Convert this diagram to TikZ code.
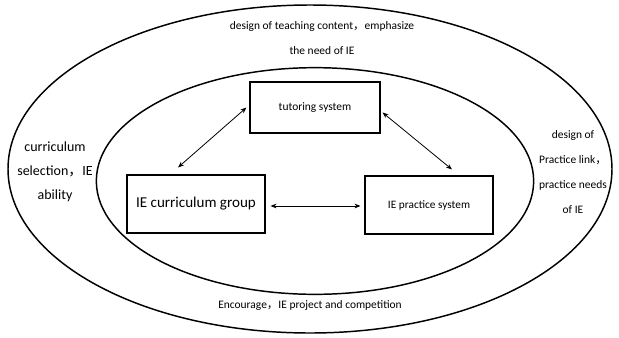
\documentclass[tikz,border=0pt]{standalone}
\usepackage{fontspec}
\setmainfont{Carlito}
\newfontfamily\cjk{Noto Sans CJK SC}
\newcommand{\zhcomma}{{\cjk ，}}
\usepackage{tikz}
\usetikzlibrary{arrows.meta}

\tikzset{
  ring/.style={line width=1.1pt},
  sysbox/.style={draw, line width=0.8pt, minimum width=#1, minimum height=43.5pt, inner sep=0pt},
  link/.style={line width=0.6pt, {Stealth[length=4.5pt,width=3.5pt]}-{Stealth[length=4.5pt,width=3.5pt]}},
  note/.style={align=center, font=\fontsize{8.6}{18.75}\selectfont}
}

\begin{document}
\begin{tikzpicture}[x=0.75pt, y=-0.75pt]
            \useasboundingbox (0,0) rectangle (619,337);

            % rings
            \draw[ring] (310,169) ellipse [x radius=226.5pt, y radius=123pt];
            \draw[ring] (315,181) ellipse [x radius=164pt, y radius=85pt];

            % systems
            \node[sysbox=97.5pt, minimum height=38.25pt, font=\fontsize{8.6}{10}\selectfont] (tut) at (315,107.5) {tutoring system};
            \node[sysbox=103.5pt, font=\fontsize{11.3}{13}\selectfont] (cur) at (196,204) {IE curriculum group};
            \node[sysbox=96pt, font=\fontsize{8.5}{10}\selectfont] (prac) at (429,205) {IE practice system};

            % outer texts
            \node[note] (top) at (322,38) {design of teaching content\zhcomma emphasize\\the need of IE};
            \node[note, font=\fontsize{10.5}{18}\selectfont] (left) at (55,172) {curriculum\\selection\zhcomma IE\\ability};
            \node[note] (right) at (573,172) {design of\\Practice link\zhcomma\\practice needs\\of IE};
            \node[note] (bottom) at (310,305) {Encourage\zhcomma IE project and competition};

            \draw[link] ([shift={(-3,0)}]tut.west) -- ([shift={(-18,-7)}]cur.north); % tut-cur
            \draw[link] ([shift={(2,5)}]tut.east) -- ([shift={(23,-6)}]prac.north); % tut-prac
            \draw[link] ([shift={(5,2)}]cur.east) -- ([shift={(-4,1)}]prac.west); % cur-prac
        \end{tikzpicture}
\end{document}
